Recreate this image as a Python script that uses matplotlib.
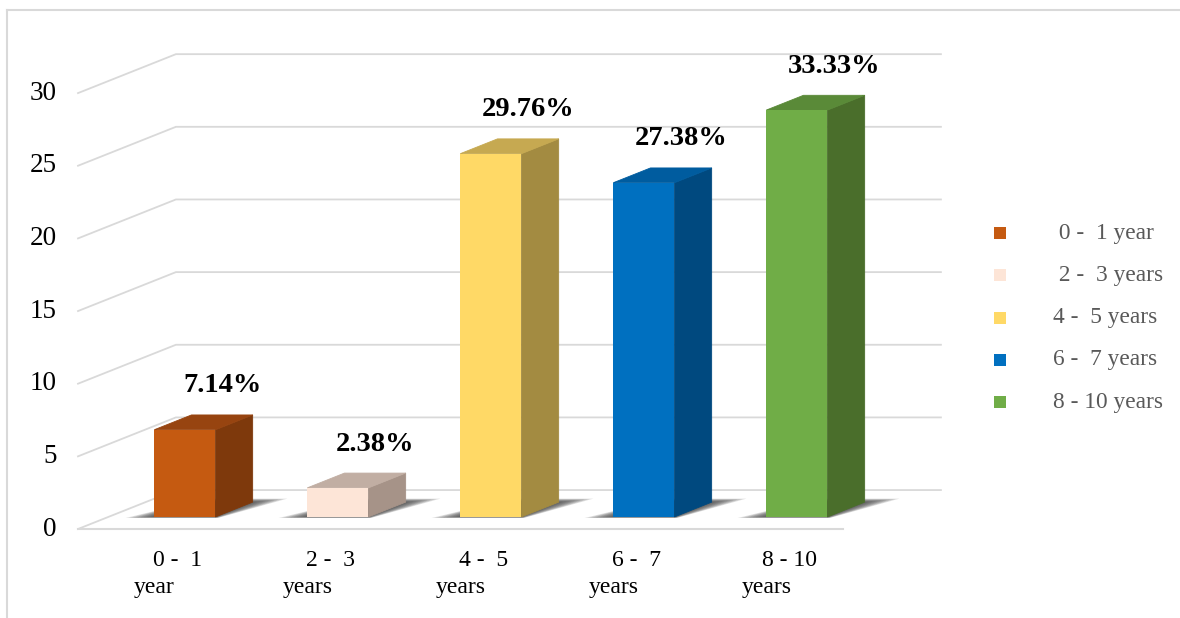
import matplotlib.pyplot as plt
from matplotlib.patches import Polygon
from matplotlib.lines import Line2D

# respondents per experience band (n = 84)
counts = [6, 2, 25, 23, 28]
label_line1 = ['0 -  1', '2 -  3', '4 -  5', '6 -  7', '8 - 10']
label_line2 = ['year', 'years', 'years', 'years', 'years']
legend_labels = [' 0 -  1 year', ' 2 -  3 years', '4 -  5 years',
                 '6 -  7 years', '8 - 10 years']
y_ticks = [0, 5, 10, 15, 20, 25, 30]

front_colors = ['#C55A11', '#FDE5D7', '#FFD966', '#0070C0', '#70AD47']
side_colors = ['#7E390C', '#A69388', '#A38B41', '#00497F', '#4A6E2B']
top_colors = ['#974410', '#C1AEA3', '#C6A951', '#005C9F', '#5A8A38']

GRID = '#D9D9D9'

# pixel layout of the front plot plane
W, H = 1180, 618
X0_PX, X_UNIT = 78, 153.0
Y0_PX, Y_UNIT = 529, 14.53
# full depth of the floor in data units
DX, DY = 0.64, 2.68
# bar footprint
BAR_W = 0.40
Z0, Z1 = 0.31, 0.69


def proj(x, y, z):
    return x + z * DX, y + z * DY


def px(x, y):
    # pixel position (from top-left) to data coordinates
    return (x - X0_PX) / X_UNIT, (Y0_PX - y) / Y_UNIT


plt.rcParams['font.family'] = ['Liberation Serif', 'DejaVu Serif']

fig = plt.figure(figsize=(W / 100, H / 100), dpi=100)
ax = fig.add_axes([0, 0, 1, 1])
ax.set_xlim(-X0_PX / X_UNIT, (W - X0_PX) / X_UNIT)
ax.set_ylim((Y0_PX - H) / Y_UNIT, Y0_PX / Y_UNIT)
ax.axis('off')

# chart border (top and left edges only)
fig.add_artist(Line2D([7 / W, 1], [1 - 10 / H, 1 - 10 / H],
                      color=GRID, lw=1.5, transform=fig.transFigure))
fig.add_artist(Line2D([7 / W, 7 / W], [0, 1 - 10 / H],
                      color=GRID, lw=1.5, transform=fig.transFigure))

n = len(counts)
total = sum(counts)

# wall gridlines: diagonal on the side wall, flat on the back wall
for v in y_ticks:
    xb, yb = proj(0, v, 1)
    xe, ye = proj(n, v, 1)
    ax.plot([0, xb, xe], [v, yb, ye], color=GRID, lw=1.3, zorder=1,
            solid_joinstyle='miter')
    ax.text(px(57, 0)[0], v, str(v), ha='right', va='center',
            fontsize=19.5, color='black')
ax.plot([0, n], [0, 0], color=GRID, lw=1.5, zorder=1)

for i, h in enumerate(counts):
    xc = i + 0.5
    xl, xr = xc - BAR_W / 2, xc + BAR_W / 2

    # soft floor shadow
    for k in range(8):
        ex = 0.17 * (1 - k / 8)
        ez = 0.09 * (1 - k / 8)
        za, zb = Z0 - ez * 0.3, Z1 + ez
        pts = [proj(xl - ex, 0, za), proj(xr + ex * 0.2, 0, za),
               proj(xr + ex, 0, zb), proj(xl + ex * 0.2, 0, zb)]
        ax.add_patch(Polygon(pts, closed=True, fc='#303030', ec='none',
                             alpha=0.15, zorder=2))

    front = [proj(xl, 0, Z0), proj(xr, 0, Z0),
             proj(xr, h, Z0), proj(xl, h, Z0)]
    side = [proj(xr, 0, Z0), proj(xr, 0, Z1),
            proj(xr, h, Z1), proj(xr, h, Z0)]
    top = [proj(xl, h, Z0), proj(xr, h, Z0),
           proj(xr, h, Z1), proj(xl, h, Z1)]
    ax.add_patch(Polygon(side, closed=True, fc=side_colors[i],
                         ec=side_colors[i], lw=0.6, zorder=3))
    ax.add_patch(Polygon(top, closed=True, fc=top_colors[i],
                         ec=top_colors[i], lw=0.6, zorder=3))
    ax.add_patch(Polygon(front, closed=True, fc=front_colors[i], ec='none',
                         zorder=4))

    # percentage label above the back of the bar
    lx, ly = proj(xc, h, Z1)
    ax.text(lx, ly + 2.0, f'{h / total * 100:.2f}%', ha='center',
            va='center', fontsize=20.5, fontweight='bold', color='black',
            zorder=5)

    # two-line category label
    ax.text(xc + 0.15, px(0, 566)[1], label_line1[i], ha='center',
            va='baseline', fontsize=17, color='black')
    ax.text(xc, px(0, 593)[1], label_line2[i], ha='center',
            va='baseline', fontsize=17, color='black')

# legend
for i, lab in enumerate(legend_labels):
    ry = 233 + 42.3 * i
    x0, y0 = px(994, ry + 6)
    x1, y1 = px(1006, ry - 6)
    ax.add_patch(Polygon([(x0, y0), (x1, y0), (x1, y1), (x0, y1)],
                         closed=True, fc=front_colors[i], ec='none'))
    tx, ty = px(1053, ry)
    ax.text(tx, ty, lab, ha='left', va='center', fontsize=16.8,
            color='#595959')

fig.savefig('out.png', dpi=100)
